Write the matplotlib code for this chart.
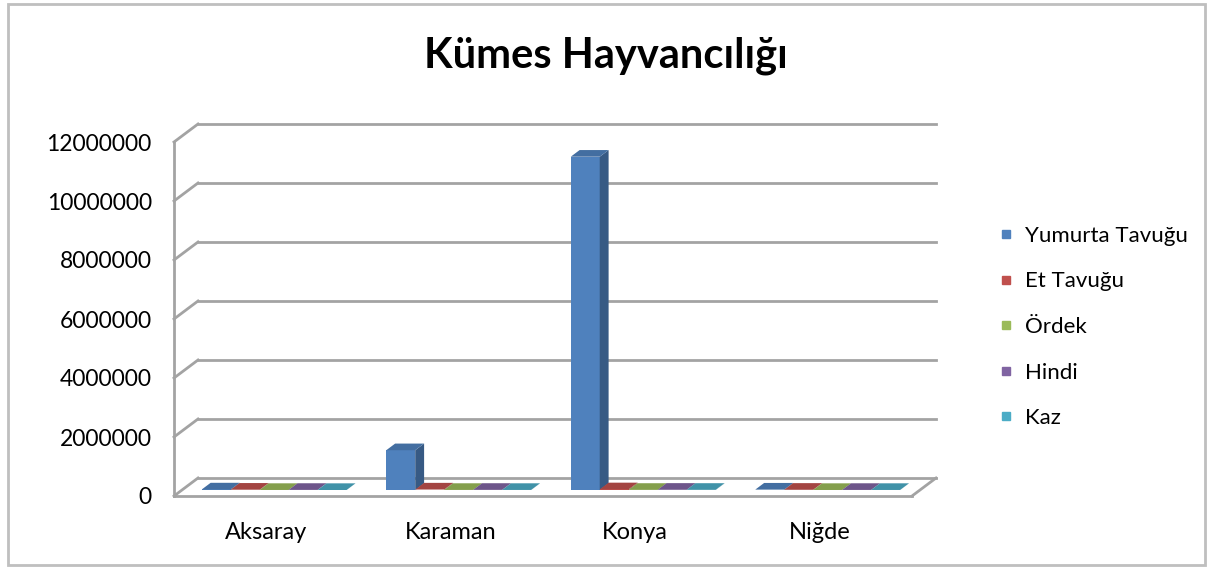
import matplotlib.pyplot as plt
import matplotlib.colors as mcolors
from matplotlib.patches import Polygon, Rectangle
from matplotlib.lines import Line2D

plt.rcParams['font.family'] = ['Lato', 'DejaVu Sans']

# veriler
iller = ['Aksaray', 'Karaman', 'Konya', 'Niğde']
seriler = ['Yumurta Tavuğu', 'Et Tavuğu', 'Ördek', 'Hindi', 'Kaz']
yumurta_tavugu = [20000, 1350000, 11300000, 15000]
et_tavugu = [12000, 18000, 25000, 9000]
ordek = [3000, 4000, 6000, 2500]
hindi = [5000, 6000, 9000, 4000]
kaz = [2000, 3500, 7000, 3000]
degerler = [yumurta_tavugu, et_tavugu, ordek, hindi, kaz]
yticks = [0, 2000000, 4000000, 6000000, 8000000, 10000000, 12000000]
renkler = ['#4F81BD', '#C0504D', '#9BBB59', '#8064A2', '#4BACC6']

W, H = 1207, 568
fig = plt.figure(figsize=(W / 100, H / 100), dpi=100)

# eksen: on duzlem sol-alt kose (174, 496) px, arka ust-sag (937, 123) px
px_kat = 184.5          # bir kategori kac piksel
px_mil = 29.5           # 1 milyon kac piksel
ax = fig.add_axes([174 / W, (H - 496) / H, (937 - 174) / W, (496 - 123) / H])
ax.set_xlim(0, (937 - 174) / px_kat)
ax.set_ylim(0, (496 - 123) / px_mil * 1e6)

DX = 24 / px_kat          # derinlik kaymasi
DY = 18 / px_mil * 1e6
n = len(iller)
grid_c = '#A3A3A3'
lw = 2.0

# arka duvar izgaralari ve capraz cizgiler
for v in yticks:
    ax.plot([DX, n + DX], [v + DY, v + DY], color=grid_c, lw=lw, zorder=1, clip_on=False)
    ax.plot([0, DX], [v, v + DY], color=grid_c, lw=lw, zorder=1, clip_on=False)
ax.plot([0, 0], [0, yticks[-1]], color=grid_c, lw=lw, zorder=1, clip_on=False)
ax.plot([0, n], [0, 0], color=grid_c, lw=lw, zorder=1, clip_on=False)
ax.plot([n, n + DX], [0, DY], color=grid_c, lw=lw, zorder=1, clip_on=False)


def koyu(c, f):
    r, g, b = mcolors.to_rgb(c)
    return (r * f, g * f, b * f)


bw = 0.157
grup = bw * len(seriler)
d0, d1 = 0.33, 0.70
z = 2
for i in range(n):
    for j, vals in enumerate(degerler):
        v = vals[i]
        x0 = i + 0.5 - grup / 2 + j * bw
        ax.bar(x0 + d0 * DX, v, width=bw, bottom=d0 * DY, align='edge',
               color=renkler[j], zorder=z, clip_on=False)
        xa, xb = x0 + d0 * DX, x0 + bw + d0 * DX
        yb0, yb1 = d0 * DY, d1 * DY
        yan = [(xb, yb0), (x0 + bw + d1 * DX, yb1), (x0 + bw + d1 * DX, v + yb1), (xb, v + yb0)]
        ust = [(xa, v + yb0), (xb, v + yb0), (x0 + bw + d1 * DX, v + yb1), (x0 + d1 * DX, v + yb1)]
        ax.add_patch(Polygon(yan, closed=True, facecolor=koyu(renkler[j], 0.7),
                             edgecolor='none', zorder=z, clip_on=False))
        ax.add_patch(Polygon(ust, closed=True, facecolor=koyu(renkler[j], 0.85),
                             edgecolor='none', zorder=z, clip_on=False))
        z += 1

ax.set_yticks(yticks)
ax.set_yticklabels([str(t) for t in yticks])
ax.set_xticks([i + 0.5 for i in range(n)])
ax.set_xticklabels(iller)
ax.tick_params(axis='y', length=0, pad=16, labelsize=16.5)
ax.tick_params(axis='x', length=0, pad=19, labelsize=17)
for s in ax.spines.values():
    s.set_visible(False)

fig.text(606 / W, 1 - 56 / H, 'Kümes Hayvancılığı', fontsize=30, fontweight='bold',
         ha='center', va='center')

handles = [Line2D([], [], marker='s', linestyle='none', markersize=6,
                  markerfacecolor=c, markeredgecolor=c) for c in renkler]
fig.legend(handles, seriler, loc='center left', bbox_to_anchor=(997 / W, 1 - 327 / H),
           frameon=False, fontsize=16, handlelength=0.8, handletextpad=0.45,
           labelspacing=1.15, borderpad=0, borderaxespad=0)

fig.patches.append(Rectangle((8 / W, 1 - 565 / H), (1205 - 8) / W, (565 - 4) / H,
                             transform=fig.transFigure, fill=False,
                             edgecolor='#BFBFBF', lw=2))

plt.savefig('out.png', dpi=100)
